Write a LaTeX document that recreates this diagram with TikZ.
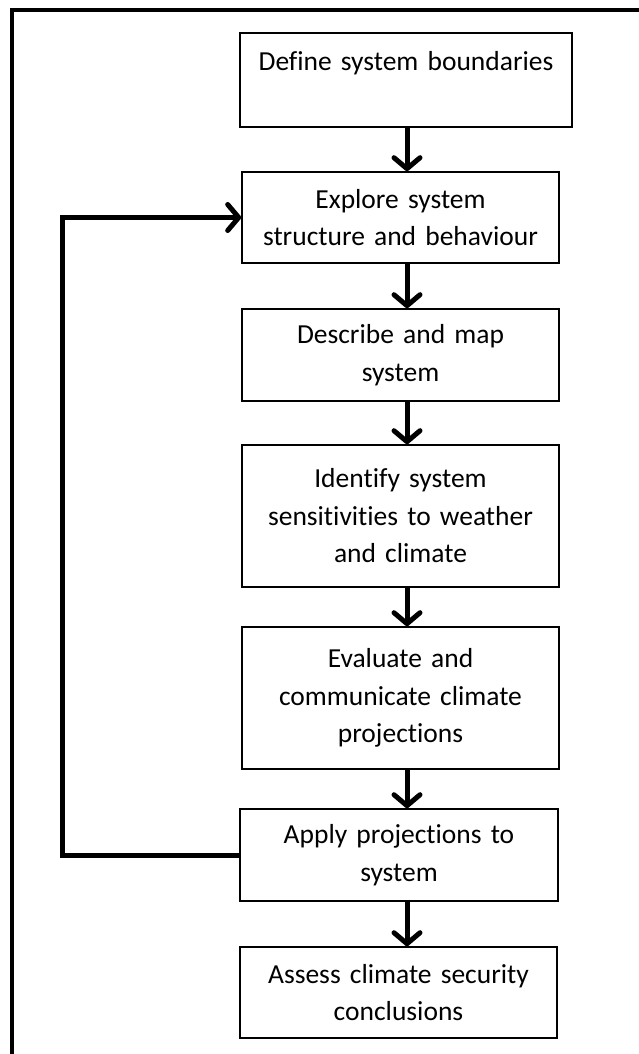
\documentclass[tikz,border=0pt]{standalone}
\usepackage{fontspec}
\setmainfont{Carlito}[Ligatures=NoCommon]
\usepackage{tikz}
\usetikzlibrary{positioning,arrows.meta}

\tikzset{
  stepbox/.style={draw, line width=1.6pt, minimum width=317pt, minimum height=92pt,
    text width=310pt, align=center, inner sep=0pt,
    font=\fontsize{27.5}{37.5}\selectfont},
  flow/.style={line width=5pt, -{Straight Barb[length=11pt, width=26pt, round]}},
}

\begin{document}
\begin{tikzpicture}[x=1pt, y=-1pt]

\useasboundingbox (0,0) rectangle (638,1054);

% ===========================
% Frame
% ===========================
\draw[line width=4.5pt] (12,1060) -- (12,10) -- (645,10);

% ===========================
% Steps
% ===========================
\node[stepbox, minimum width=332pt, minimum height=94pt] (define) at (406,80)
    {Define system boundaries\\\mbox{}};
\node[stepbox, minimum height=91pt] (explore) at (400.5,217.5)
    {Explore system\\structure and behaviour};
\node[stepbox] (describe) at (400.5,355)
    {Describe and map\\system};
\node[stepbox, minimum height=142pt] (identify) at (400.5,516)
    {Identify system\\sensitivities to weather\\and climate};
\node[stepbox, minimum height=142pt] (evaluate) at (400.5,698)
    {Evaluate and\\communicate climate\\projections};
\node[stepbox, minimum width=318pt] (apply) at (399,855)
    {Apply projections to\\system};
\node[stepbox, minimum height=91pt] (assess) at (398.5,992.5)
    {Assess climate security\\conclusions};

% ===========================
% Connectors
% ===========================
\coordinate (spine) at (407,0);
\coordinate (loop) at (62,0);

\draw[flow] (define.south -| spine) -- (explore.north -| spine);
\draw[flow] (explore.south -| spine) -- (describe.north -| spine);
\draw[flow] (describe.south -| spine) -- (identify.north -| spine);
\draw[flow] (identify.south -| spine) -- (evaluate.north -| spine);
\draw[flow] (evaluate.south -| spine) -- (apply.north -| spine);
\draw[flow] (apply.south -| spine) -- (assess.north -| spine);

% Feedback loop
\draw[flow] (apply.west) -- (apply.west -| loop) -- (explore.west -| loop) -- (explore.west);

\end{tikzpicture}
\end{document}
